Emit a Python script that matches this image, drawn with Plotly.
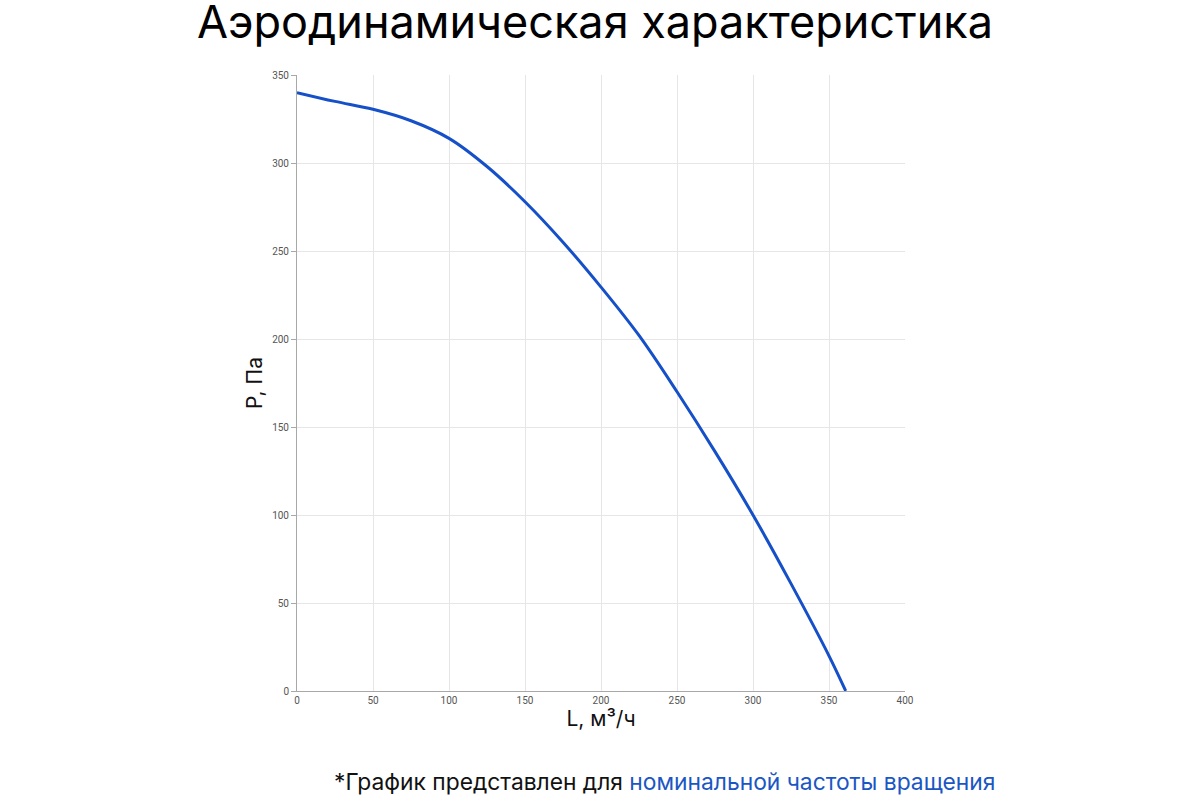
import plotly.graph_objects as go

flow = [0, 25, 50, 75, 100, 125, 150, 175, 200, 225, 250, 275, 300, 325, 350, 361]
pressure = [340, 335, 330.5, 324, 314, 298, 278, 255, 229.5, 202, 170, 136, 100, 61, 20, 0]

x_ticks = [0, 50, 100, 150, 200, 250, 300, 350, 400]
y_ticks = [0, 50, 100, 150, 200, 250, 300, 350]

line_color = "#1650c8"
font = "Inter, Lato, 'Noto Sans', sans-serif"

fig = go.Figure()
fig.add_trace(go.Scatter(
    x=flow, y=pressure, mode="lines",
    line=dict(color=line_color, width=3, shape="spline", smoothing=1.0),
    hoverinfo="x+y", showlegend=False,
))

fig.update_layout(
    width=1200, height=800,
    paper_bgcolor="white", plot_bgcolor="white",
    margin=dict(l=297, r=295, t=75, b=109),
    font=dict(family=font),
    xaxis=dict(
        range=[0, 400], tickvals=x_ticks, ticktext=[str(v) for v in x_ticks],
        showgrid=True, gridcolor="#e6e6e6", gridwidth=1,
        showline=True, linecolor="#a8a8a8", linewidth=1,
        zeroline=False, ticks="", tickfont=dict(size=10, color="#555", family="Roboto, sans-serif"),
        title=dict(text="L, м³/ч", font=dict(size=21, color="#111", family=font), standoff=6),
        fixedrange=True,
    ),
    yaxis=dict(
        range=[0, 350], tickvals=y_ticks, ticktext=[str(v) for v in y_ticks],
        showgrid=True, gridcolor="#e6e6e6", gridwidth=1,
        showline=True, linecolor="#a8a8a8", linewidth=1,
        zeroline=False, ticks="outside", ticklen=5, tickcolor="#a8a8a8",
        tickfont=dict(size=10, color="#555", family="Roboto, sans-serif"),
        title=dict(text="P, Па", font=dict(size=21, color="#111", family=font), standoff=3),
        fixedrange=True,
    ),
    annotations=[
        dict(text="Аэродинамическая характеристика", x=0.5, y=1.0, xref="paper", yref="paper",
             xanchor="center", yanchor="middle", yshift=54, xshift=-6, showarrow=False,
             font=dict(size=45, color="#000", family=font)),
        dict(text="*График представлен для <span style='color:#1a56c4'>номинальной частоты вращения</span>",
             x=0.5, y=0, xref="paper", yref="paper", xanchor="center", yanchor="middle",
             yshift=-90, xshift=63, showarrow=False,
             font=dict(size=22.8, color="#111", family=font)),
    ],
)

fig.write_html("out.html", config={"displayModeBar": False},
               post_script="document.body.style.margin='0';document.body.style.overflow='hidden';")
